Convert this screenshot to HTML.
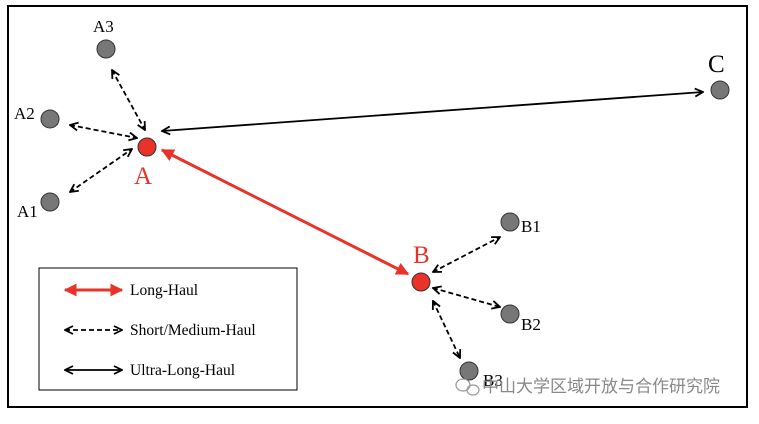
<!DOCTYPE html>
<html><head><meta charset="utf-8"><style>
body{margin:0;background:#fff;width:759px;height:419px;overflow:hidden}
</style></head><body>
<svg width="759" height="419" viewBox="0 0 759 419" xmlns="http://www.w3.org/2000/svg" font-family="'Liberation Serif', serif">
<defs>
<marker id="ak" viewBox="0 0 10 10" refX="9" refY="5" markerWidth="10" markerHeight="10" orient="auto-start-reverse" markerUnits="userSpaceOnUse"><path d="M1,1 L9,5 L1,9" fill="none" stroke="#000" stroke-width="1.8"/></marker>
<marker id="ar" viewBox="0 0 10 10" refX="9" refY="5" markerWidth="13" markerHeight="13" orient="auto-start-reverse" markerUnits="userSpaceOnUse"><path d="M0,0 L10,5 L0,10 z" fill="#e8322a"/></marker>
</defs>
<rect x="8" y="6" width="739" height="401" fill="#fff" stroke="#000" stroke-width="2"/>
<g stroke="#000" stroke-width="1.8" stroke-dasharray="5,3" fill="none">
<line x1="112" y1="70" x2="145" y2="130" marker-start="url(#ak)" marker-end="url(#ak)"/>
<line x1="70" y1="125" x2="137" y2="138" marker-start="url(#ak)" marker-end="url(#ak)"/>
<line x1="70" y1="192" x2="132" y2="149" marker-start="url(#ak)" marker-end="url(#ak)"/>
<line x1="433" y1="272" x2="500" y2="237" marker-start="url(#ak)" marker-end="url(#ak)"/>
<line x1="433" y1="288" x2="500" y2="307" marker-start="url(#ak)" marker-end="url(#ak)"/>
<line x1="433" y1="301" x2="460" y2="358" marker-start="url(#ak)" marker-end="url(#ak)"/>
</g>
<line x1="162" y1="131" x2="703" y2="92" stroke="#000" stroke-width="1.8" marker-start="url(#ak)" marker-end="url(#ak)"/>
<line x1="162" y1="150" x2="408" y2="274" stroke="#e8322a" stroke-width="3" marker-start="url(#ar)" marker-end="url(#ar)"/>
<g fill="#777" stroke="#333" stroke-width="1">
<circle cx="106" cy="49" r="9"/><circle cx="50" cy="119" r="9"/><circle cx="50" cy="202" r="9"/>
<circle cx="720" cy="90" r="9"/><circle cx="510" cy="222" r="9"/><circle cx="510" cy="314" r="9"/><circle cx="469" cy="371" r="9"/>
</g>
<g fill="#e8322a" stroke="#333" stroke-width="1"><circle cx="147" cy="147" r="9"/><circle cx="421" cy="282" r="9"/></g>
<g font-size="17" fill="#000">
<text x="93" y="32">A3</text><text x="14" y="119">A2</text><text x="17" y="217">A1</text>
<text x="521" y="232">B1</text><text x="521" y="330">B2</text><text x="483" y="386">B3</text>
</g>
<text x="708" y="72" font-size="25">C</text>
<text x="134" y="184" font-size="25" fill="#e8322a">A</text>
<text x="413" y="263" font-size="25" fill="#e8322a">B</text>
<rect x="39" y="268" width="258" height="122" fill="#fff" stroke="#000" stroke-width="1"/>
<line x1="65" y1="290" x2="122" y2="290" stroke="#e8322a" stroke-width="3" marker-start="url(#ar)" marker-end="url(#ar)"/>
<line x1="65" y1="330" x2="122" y2="330" stroke="#000" stroke-width="1.8" stroke-dasharray="5,3" marker-start="url(#ak)" marker-end="url(#ak)"/>
<line x1="65" y1="370" x2="122" y2="370" stroke="#000" stroke-width="1.8" marker-start="url(#ak)" marker-end="url(#ak)"/>
<g font-size="15.5" fill="#000"><text x="130" y="295">Long-Haul</text><text x="130" y="335">Short/Medium-Haul</text><text x="130" y="375">Ultra-Long-Haul</text></g>
<text x="482" y="392" font-size="17" fill="#888" font-family="'Liberation Sans','Noto Sans CJK SC',sans-serif">中山大学区域开放与合作研究院</text>
<g fill="none" stroke="#999" stroke-width="1.2"><ellipse cx="463" cy="385" rx="7" ry="6"/><ellipse cx="473" cy="390" rx="6" ry="5"/></g>
</svg>
</body></html>
